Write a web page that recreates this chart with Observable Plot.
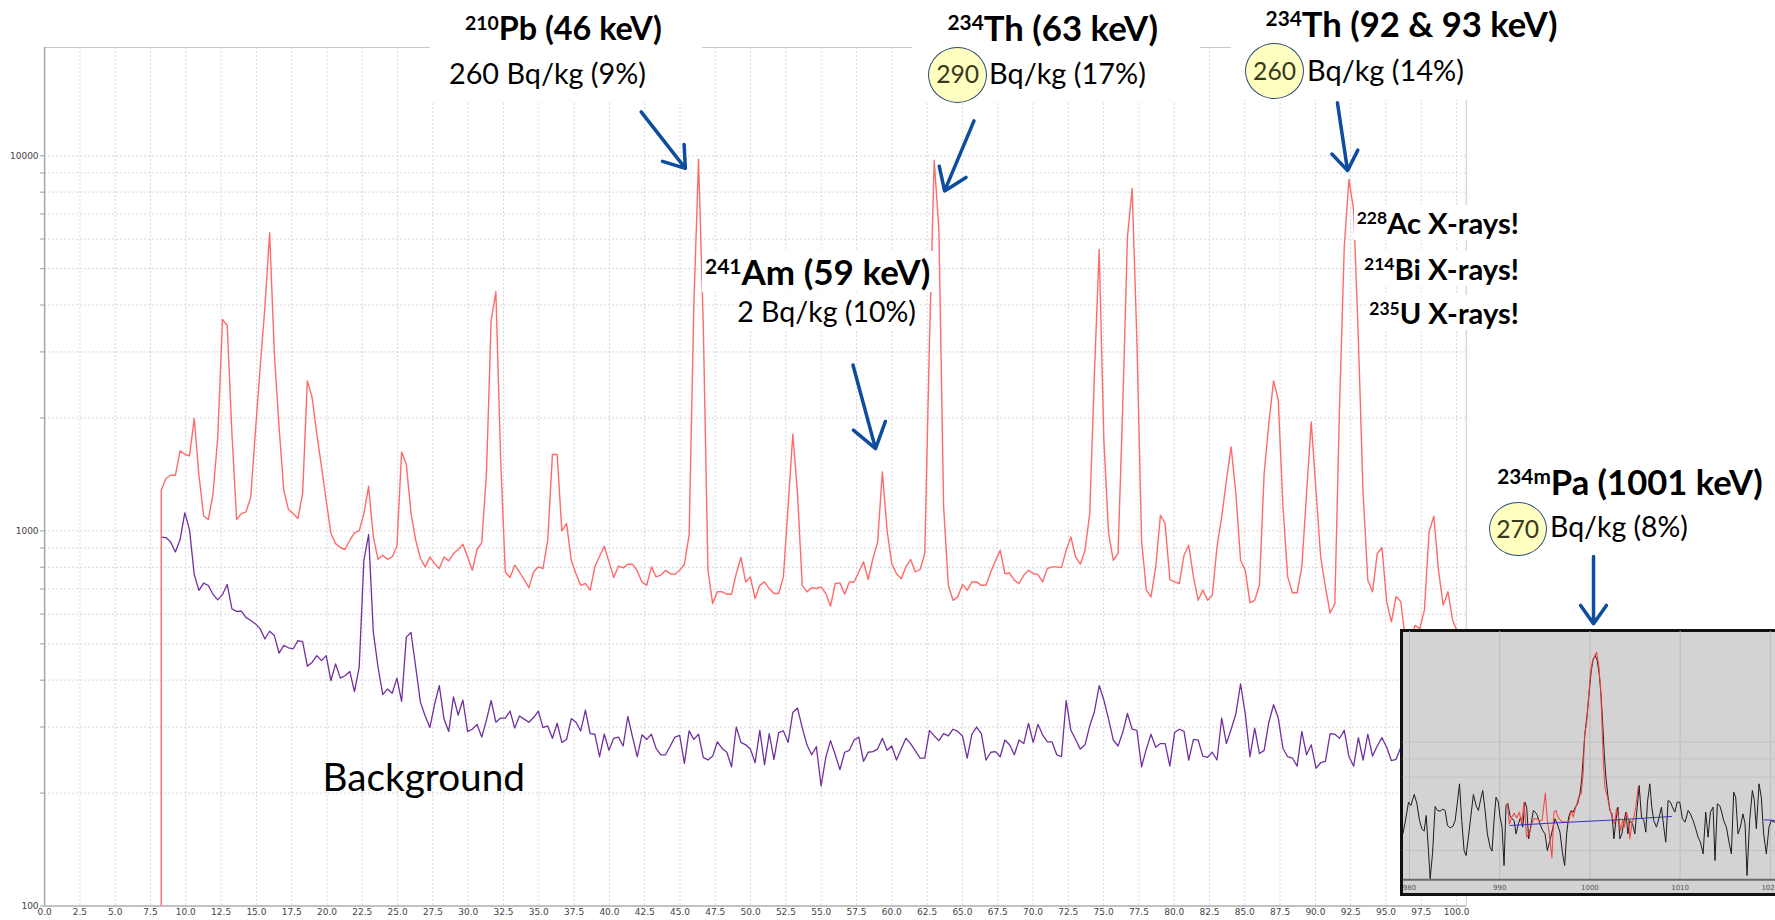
<!DOCTYPE html>
<html><head><meta charset="utf-8">
<script src="https://cdn.jsdelivr.net/npm/d3@7"></script>
<script src="https://cdn.jsdelivr.net/npm/@observablehq/plot@0.6"></script>
<style>
html,body{margin:0;padding:0;background:#fff;overflow:hidden;}
#wrap{position:relative;width:1775px;height:920px;overflow:hidden;font-family:Lato,"Open Sans",sans-serif;}
#wrap svg{position:absolute;}
.wbox{position:absolute;background:#fff;}
.lbl{position:absolute;white-space:nowrap;line-height:1;color:#000;font-family:Lato,"Open Sans",sans-serif;}
.lbl.fill{background:#fff;box-shadow:0 0 0 3px #fff;}
.lbl sup{font-size:0.6em;vertical-align:0;position:relative;top:-0.52em;}
.badge{position:absolute;box-sizing:border-box;border:1.3px solid #2b4a7e;background:#ffffc0;border-radius:50%;display:flex;align-items:center;justify-content:center;font-family:Lato,sans-serif;color:#3a391e;line-height:1;}
#insetbg{position:absolute;left:1400px;top:629px;width:420px;height:267px;box-sizing:border-box;border:3px solid #111;background:#d3d3d3;}
</style></head>
<body><div id="wrap"></div>
<script>
// ---------- data: main spectrum (counts per channel, log scale) ----------
const channelStart = 8.26;   // keV of first channel
const channelWidth = 0.3338; // keV per channel
const sampleCounts = [
1283,1379,1407,1407,1634,1601,1585,1993,1407,1096,
1072,1258,1781,3662,3528,1818,1072,1112,1124,1232,
1855,2737,3956,6234,2971,1894,1283,1140,1112,1079,
1258,2512,2277,1818,1481,1207,984,925,903,892,
944,988,1000,1112,1315,964,840,861,840,852,
910,1624,1506,1112,944,844,802,852,818,794,
852,832,870,892,921,852,785,892,929,1422,
3646,4339,1574,777,751,810,777,742,706,777,
802,794,944,1598,1598,1000,1046,835,769,716,
724,695,802,856,910,827,751,805,797,815,
815,782,731,716,802,754,762,785,769,766,
785,815,974,3956,9777,3572,785,640,688,688,
678,678,769,849,731,754,660,716,731,702,
681,681,754,1159,1810,1258,716,688,706,702,
709,681,630,724,727,678,731,731,777,827,
742,844,935,1437,1004,818,769,746,802,839,
777,789,870,3225,9737,6337,1159,716,653,667,
720,695,731,731,716,716,777,832,888,769,
772,739,724,762,785,769,766,731,794,802,
802,798,888,964,852,815,888,1112,2628,5626,
1745,984,835,870,2141,6081,8183,3225,944,695,
667,802,1101,1046,742,731,724,861,916,754,
653,695,653,674,906,1090,1365,1675,1258,835,
785,643,653,716,1422,1933,2512,2231,1159,754,
684,684,802,1258,1953,1284,852,709,604,640,
2141,5719,8648,7164,3225,1258,739,688,870,903,
647,572,669,647,510,500,560,549,614,994,
1094,785,634,688,578,538];
const backgroundCounts = [
963,960,934,879,948,1117,1008,766,694,726,
715,677,655,677,720,620,610,611,587,577,
565,548,515,540,526,472,495,488,485,510,
507,436,446,465,451,465,399,442,405,411,
422,373,433,835,978,537,433,366,379,369,
405,351,521,536,433,349,321,299,345,387,
315,292,361,323,354,292,296,305,282,313,
353,309,317,317,331,298,321,315,309,318,
331,299,302,280,307,273,278,316,309,293,
333,288,287,250,287,260,280,282,267,320,
282,250,286,278,287,263,253,253,267,282,
285,240,293,278,287,249,245,251,274,263,
257,235,300,273,269,262,241,294,238,288,
246,290,293,273,328,337,299,269,253,266,
209,249,276,253,231,257,260,277,282,243,
257,258,262,280,260,267,245,262,280,271,
259,248,248,294,284,276,288,284,296,292,
284,248,287,300,288,245,257,258,250,277,
269,253,277,271,307,273,305,286,274,274,
253,250,353,294,278,262,269,302,330,387,
354,315,277,267,290,326,296,294,235,262,
287,265,271,271,236,290,296,292,245,278,
277,251,249,257,245,317,271,296,325,391,
325,250,298,255,260,309,344,317,263,250,
248,236,292,253,269,233,241,243,288,287,
280,294,250,236,281,245,287,251,267,281,
265,244,246,265,293];
const lowCutoffCount = 1; // sample trace drops to (below) the axis at the first channel

const xTickValues = [0,2.5,5,7.5,10,12.5,15,17.5,20,22.5,25,27.5,30,32.5,35,37.5,40,42.5,45,47.5,50,52.5,55,57.5,60,62.5,65,67.5,70,72.5,75,77.5,80,82.5,85,87.5,90,92.5,95,97.5,100];
const yGridValues = [200,300,400,500,600,700,800,900,1000,2000,3000,4000,5000,6000,7000,8000,9000,10000];
const yLabelValues = [100,1000,10000];

// annotation arrows (keV, counts)
const peakArrows = [
  {x1:42.25,y1:13100,x2:45.38,y2:9260},
  {x1:65.82,y1:12390,x2:63.74,y2:8060},
  {x1:91.56,y1:13840,x2:92.28,y2:9130},
  {x1:57.25,y1:2770,x2:58.85,y2:1657}
];

// ---------- data: inset (234mPa 1001 keV region) ----------
const insetSpectrum = [
[979.26,32],[979.52,39],[979.89,51],[980.15,49],[980.52,55.6],[980.81,50.4],[981.11,40],[981.37,35],[981.62,33.6],[981.85,43],
[982.10,22],[982.29,5],[982.55,20],[982.84,48.4],[983.10,46],[983.39,45.6],[983.69,46.8],[983.95,46],[984.21,37],[984.50,35.6],
[984.80,36.4],[985.06,40],[985.31,51],[985.54,62],[985.79,40],[986.05,22],[986.27,19],[986.53,30],[986.79,42],[987.08,55.6],
[987.38,49],[987.64,46],[987.90,53],[988.12,58],[988.38,46],[988.63,32],[988.93,24],[989.15,21.6],[989.37,40],[989.59,54],
[989.85,51],[990.04,42],[990.26,36],[990.48,13],[990.70,49],[990.89,50.4],[991.14,43],[991.37,41],[991.59,40],[991.81,32],
[992.07,38],[992.32,42],[992.55,36],[992.80,51],[992.99,48],[993.21,29],[993.43,36],[993.73,46],[993.95,45],[994.17,43],
[994.46,38],[994.76,34],[995.02,32],[995.28,22],[995.57,28],[995.87,35],[996.13,41],[996.38,38],[996.68,33],[996.97,20],
[997.20,13],[997.42,32],[997.64,42],[997.90,46],[998.15,45],[998.38,48],[998.63,50],[998.89,56],[999.08,64],[999.26,78],
[999.45,92],[999.70,104],[999.93,118],[1000.15,130],[1000.37,137],[1000.59,139],[1000.81,136],[1001.03,128],[1001.25,114],[1001.40,100],
[1001.59,80],[1001.77,66],[1001.99,55],[1002.21,46],[1002.44,44],[1002.66,29],[1002.88,40],[1003.10,48],[1003.32,29],[1003.54,32],
[1003.76,39],[1003.99,45],[1004.21,32],[1004.43,40],[1004.72,38],[1004.98,32],[1005.24,48],[1005.46,61],[1005.72,42],[1005.98,40],
[1006.20,33],[1006.38,51],[1006.64,62],[1006.86,48],[1007.08,40],[1007.38,36],[1007.68,42],[1007.93,48],[1008.19,36],[1008.41,27],
[1008.67,52],[1008.93,51],[1009.15,48],[1009.41,45],[1009.67,51],[1009.96,51],[1010.26,41],[1010.55,39],[1010.89,46],[1011.14,44],
[1011.44,40],[1011.73,35],[1011.99,30],[1012.25,27],[1012.55,20],[1012.84,45],[1013.10,30],[1013.36,45],[1013.65,48],[1013.87,16],
[1014.13,50],[1014.39,49],[1014.61,45],[1014.83,40],[1015.13,36],[1015.42,27],[1015.68,20],[1015.94,57],[1016.16,54],[1016.42,32],
[1016.68,36],[1016.97,44],[1017.20,38],[1017.42,7],[1017.71,40],[1018.01,58],[1018.23,52],[1018.45,35],[1018.75,62],[1019.00,54],
[1019.26,32],[1019.56,20],[1019.85,36],[1020.11,40],[1020.48,39]];
const insetFit = [
[990.85,50],[991.07,38],[991.33,42],[991.59,44.4],[991.88,41.6],[992.18,45],[992.44,38],[992.69,51],[992.99,30],[993.28,32],
[993.54,38],[993.80,41],[994.10,41],[994.39,40],[994.69,40],[995.06,56.4],[995.28,40],[995.50,32],[995.79,17.6],[996.01,45],
[996.24,46],[996.46,42],[996.75,40],[997.05,39],[997.34,39],[997.64,39],[997.93,46],[998.15,42],[998.38,47],[998.60,51],
[998.82,55],[999.04,56],[999.26,69],[999.41,92],[999.63,98],[999.85,114],[1000.07,129],[1000.30,136],[1000.52,138.4],[1000.74,141],
[1000.96,134],[1001.18,120],[1001.33,100],[1001.48,76],[1001.66,60],[1001.85,56],[1002.07,51],[1002.29,45],[1002.51,41],[1002.73,38],
[1002.95,47],[1003.17,42],[1003.39,34],[1003.62,40],[1003.84,36],[1004.06,45],[1004.28,40],[1004.43,29],[1004.65,38],[1004.87,42],
[1005.09,48],[1005.35,60]];
const insetBaseline = [[991.14,37],[996.31,38.6],[1000.0,39.6],[1003.69,40.6],[1009.04,42.4]];
const insetBaseline2 = [[1019.37,40.4],[1020.66,40]];
const insetXTicks = [980,990,1000,1010,1020];
const insetYGrid = [22,66,77,87];
const insetArrow = [{x1:1000.4,y1:198.4,x2:1000.4,y2:158}];

// ---------- annotation texts ----------
const whiteBoxes = [{x:430,y:0,w:272,h:102},{x:912,y:0,w:288,h:103},{x:1231,y:0,w:331,h:100}];
const labels = [
 {html:"<sup>210</sup>Pb (46 keV)", bold:true, left:465, cy:29.4, w:197},
 {html:"260 Bq/kg (9%)", left:449, cy:74.7, w:197},
 {html:"<sup>234</sup>Th (63 keV)", bold:true, left:947.5, cy:29.4, w:210.5},
 {html:"Bq/kg (17%)", left:989, cy:74.7, w:157},
 {html:"<sup>234</sup>Th (92 &amp; 93 keV)", bold:true, left:1265.6, cy:25, w:292},
 {html:"Bq/kg (14%)", left:1307, cy:71.3, w:157},
 {html:"<sup>241</sup>Am (59 keV)", bold:true, left:705, cy:272.5, w:225.5, fill:true},
 {html:"2 Bq/kg (10%)", left:737.3, cy:312.5, w:178.7, fill:true},
 {html:"<sup>228</sup>Ac X-rays!", bold:true, left:1356.7, cy:223, w:162.3, fill:true},
 {html:"<sup>214</sup>Bi X-rays!", bold:true, left:1364, cy:269, w:155, fill:true},
 {html:"<sup>235</sup>U X-rays!", bold:true, left:1369.3, cy:313, w:149.7, fill:true},
 {html:"<sup>234m</sup>Pa (1001 keV)", bold:true, left:1497.3, cy:483, w:265.7},
 {html:"Bq/kg (8%)", left:1550, cy:527.5, w:138},
 {html:"Background", left:322.6, cy:777.7, w:202.4}
];
const badges = [
 {text:"290", cx:957.7, cy:74.7, w:59, h:56, tw:43},
 {text:"260", cx:1274.6, cy:71.3, w:59, h:56, tw:43},
 {text:"270", cx:1517.7, cy:529.3, w:58, h:54, tw:43}
];

// ---------- build ----------
const wrap = document.getElementById("wrap");
const energyOf = i => channelStart + i * channelWidth;
const sampleData = [{E: channelStart, c: lowCutoffCount}].concat(sampleCounts.map((c, i) => ({E: energyOf(i), c})));
const bgData = backgroundCounts.map((c, i) => ({E: energyOf(i), c}));

const W = 1775, H = 920;
const main = Plot.plot({
  width: W, height: H,
  marginLeft: 44.1, marginRight: W - 1465.7, marginTop: 47, marginBottom: 14.5,
  x: {domain: [0, 100.68], label: null},
  y: {type: "log", domain: [100, 19440], label: null},
  style: {background: "transparent", fontFamily: "'DejaVu Sans', sans-serif", fontSize: "9px", color: "#444"},
  marks: [
    Plot.ruleX(xTickValues, {stroke: "#d6d6d6", strokeDasharray: "2,2"}),
    Plot.ruleY(yGridValues, {stroke: "#d6d6d6", strokeDasharray: "2,2"}),
    Plot.frame({stroke: "#c8c8c8"}),
    Plot.axisX({ticks: xTickValues, tickFormat: d3.format(".1f"), tickSize: 0, tickPadding: 3, label: null}),
    Plot.axisY({ticks: [100].concat(yGridValues), tickFormat: d => yLabelValues.includes(d) ? String(d) : "", tickSize: 4, tickPadding: 2, stroke: "#999", label: null}),
    Plot.ruleX([0], {stroke: "#a8a8a8", strokeWidth: 1.5}),
    Plot.ruleY([100], {stroke: "#a0a0a0"}),
    Plot.line(bgData, {x: "E", y: "c", stroke: "#7030a0", strokeWidth: 1.3, clip: true}),
    Plot.line(sampleData, {x: "E", y: "c", stroke: "#ff6b6b", strokeWidth: 1.4, clip: true}),
    Plot.arrow(peakArrows, {x1: "x1", y1: "y1", x2: "x2", y2: "y2", stroke: "#0e4c9e", strokeWidth: 3.5, headLength: 17, headAngle: 70})
  ]
});
main.style.left = "0px"; main.style.top = "0px";
wrap.appendChild(main);

const bg = document.createElement("div"); bg.id = "insetbg"; wrap.appendChild(bg);

const IW = 420, IH = 346;
const inset = Plot.plot({
  width: IW, height: IH,
  marginLeft: 1.7, marginRight: 0, marginTop: 81, marginBottom: IH - (879.3 - 550),
  x: {domain: [979.3, 979.3 + (IW - 1.7) / 9.02], label: null},
  y: {domain: [4.42, 153.4], label: null, axis: null},
  style: {background: "transparent", fontFamily: "'DejaVu Sans', sans-serif", fontSize: "7px", color: "#555"},
  marks: [
    Plot.ruleX(insetXTicks, {stroke: "#bcbcbc"}),
    Plot.ruleY(insetYGrid, {stroke: "#c2c2c2"}),
    Plot.line(insetSpectrum, {x: d => d[0], y: d => d[1], stroke: "#1c1c1c", strokeWidth: 1, clip: true}),
    Plot.line(insetFit, {x: d => d[0], y: d => d[1], stroke: "#ff3a3a", strokeWidth: 1.1, strokeOpacity: 0.9, clip: true}),
    Plot.line(insetBaseline, {x: d => d[0], y: d => d[1], stroke: "#3434c4", strokeWidth: 1}),
    Plot.line(insetBaseline2, {x: d => d[0], y: d => d[1], stroke: "#3434c4", strokeWidth: 1}),
    Plot.ruleY([4.42], {stroke: "#6a6a6a", strokeWidth: 2}),
    Plot.axisX({ticks: insetXTicks, tickFormat: d => String(d), tickSize: 0, tickPadding: 5, label: null}),
    Plot.arrow(insetArrow, {x1: "x1", y1: "y1", x2: "x2", y2: "y2", stroke: "#0e4c9e", strokeWidth: 3.5, headLength: 17, headAngle: 70})
  ]
});
inset.style.left = "1401px"; inset.style.top = "550px"; inset.style.overflow = "visible";
wrap.appendChild(inset);

for (const b of whiteBoxes) {
  const d = document.createElement("div");
  d.className = "wbox";
  Object.assign(d.style, {left: b.x + "px", top: b.y + "px", width: b.w + "px", height: b.h + "px"});
  wrap.appendChild(d);
}
for (const l of labels) {
  const d = document.createElement("div");
  d.className = "lbl" + (l.fill ? " fill" : "");
  d.style.fontWeight = l.bold ? "700" : "400";
  d.innerHTML = l.html;
  d.style.fontSize = "30px";
  d.style.left = "0px"; d.style.top = "0px";
  wrap.appendChild(d);
  const w0 = d.getBoundingClientRect().width;
  const fs = 30 * l.w / w0;
  d.style.fontSize = fs + "px";
  d.style.left = l.left + "px";
  d.style.top = (l.cy - 0.529 * fs) + "px";
}
for (const b of badges) {
  const d = document.createElement("div");
  d.className = "badge";
  Object.assign(d.style, {left: (b.cx - b.w / 2) + "px", top: (b.cy - b.h / 2) + "px", width: b.w + "px", height: b.h + "px"});
  const s = document.createElement("span");
  s.textContent = b.text; s.style.fontSize = "26px";
  d.appendChild(s);
  wrap.appendChild(d);
  const w0 = s.getBoundingClientRect().width;
  s.style.fontSize = (26 * b.tw / w0) + "px";
}
</script>
</body></html>
